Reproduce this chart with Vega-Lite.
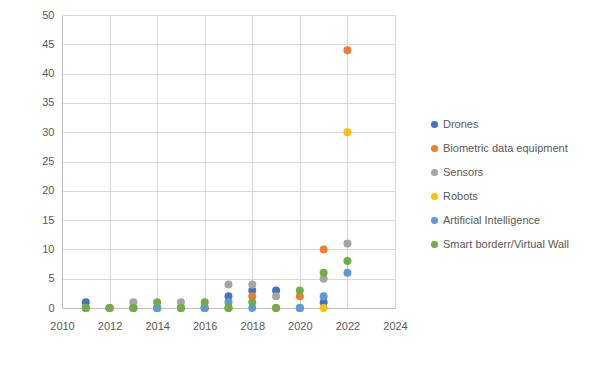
{
  "$schema": "https://vega.github.io/schema/vega-lite/v6.json",
  "width": 333,
  "height": 293,
  "padding": {"left": 62, "top": 15, "right": 205, "bottom": 63},
  "autosize": {"type": "none"},
  "background": "white",
  "config": {
    "font": "Liberation Sans",
    "view": {"stroke": null},
    "axis": {
      "labelFont": "Liberation Sans",
      "labelFontSize": 11,
      "labelColor": "#595959",
      "gridColor": "#D9D9D9",
      "domainColor": "#BFBFBF",
      "ticks": false,
      "title": null,
      "labelFlush": false,
      "labelOverlap": false,
      "labelBound": false
    }
  },
  "data": {
    "values": [
      {"series": "Drones", "year": 2011, "value": 1},
      {"series": "Drones", "year": 2012, "value": 0},
      {"series": "Drones", "year": 2013, "value": 0},
      {"series": "Drones", "year": 2014, "value": 0},
      {"series": "Drones", "year": 2015, "value": 0},
      {"series": "Drones", "year": 2016, "value": 0},
      {"series": "Drones", "year": 2017, "value": 2},
      {"series": "Drones", "year": 2018, "value": 3},
      {"series": "Drones", "year": 2019, "value": 3},
      {"series": "Drones", "year": 2020, "value": 0},
      {"series": "Drones", "year": 2021, "value": 1},
      {"series": "Biometric data equipment", "year": 2011, "value": 0},
      {"series": "Biometric data equipment", "year": 2012, "value": 0},
      {"series": "Biometric data equipment", "year": 2013, "value": 0},
      {"series": "Biometric data equipment", "year": 2014, "value": 0},
      {"series": "Biometric data equipment", "year": 2015, "value": 0},
      {"series": "Biometric data equipment", "year": 2016, "value": 0},
      {"series": "Biometric data equipment", "year": 2017, "value": 0},
      {"series": "Biometric data equipment", "year": 2018, "value": 2},
      {"series": "Biometric data equipment", "year": 2019, "value": 0},
      {"series": "Biometric data equipment", "year": 2020, "value": 2},
      {"series": "Biometric data equipment", "year": 2021, "value": 10},
      {"series": "Biometric data equipment", "year": 2022, "value": 44},
      {"series": "Sensors", "year": 2011, "value": 0},
      {"series": "Sensors", "year": 2012, "value": 0},
      {"series": "Sensors", "year": 2013, "value": 1},
      {"series": "Sensors", "year": 2014, "value": 0},
      {"series": "Sensors", "year": 2015, "value": 1},
      {"series": "Sensors", "year": 2016, "value": 0},
      {"series": "Sensors", "year": 2017, "value": 4},
      {"series": "Sensors", "year": 2018, "value": 4},
      {"series": "Sensors", "year": 2019, "value": 2},
      {"series": "Sensors", "year": 2020, "value": 0},
      {"series": "Sensors", "year": 2021, "value": 5},
      {"series": "Sensors", "year": 2022, "value": 11},
      {"series": "Robots", "year": 2017, "value": 0},
      {"series": "Robots", "year": 2021, "value": 0},
      {"series": "Robots", "year": 2022, "value": 30},
      {"series": "Artificial Intelligence", "year": 2014, "value": 0},
      {"series": "Artificial Intelligence", "year": 2016, "value": 0},
      {"series": "Artificial Intelligence", "year": 2017, "value": 1},
      {"series": "Artificial Intelligence", "year": 2018, "value": 0},
      {"series": "Artificial Intelligence", "year": 2020, "value": 0},
      {"series": "Artificial Intelligence", "year": 2021, "value": 2},
      {"series": "Artificial Intelligence", "year": 2022, "value": 6},
      {"series": "Smart borderr/Virtual Wall", "year": 2011, "value": 0},
      {"series": "Smart borderr/Virtual Wall", "year": 2012, "value": 0},
      {"series": "Smart borderr/Virtual Wall", "year": 2013, "value": 0},
      {"series": "Smart borderr/Virtual Wall", "year": 2014, "value": 1},
      {"series": "Smart borderr/Virtual Wall", "year": 2015, "value": 0},
      {"series": "Smart borderr/Virtual Wall", "year": 2016, "value": 1},
      {"series": "Smart borderr/Virtual Wall", "year": 2017, "value": 0},
      {"series": "Smart borderr/Virtual Wall", "year": 2018, "value": 1},
      {"series": "Smart borderr/Virtual Wall", "year": 2019, "value": 0},
      {"series": "Smart borderr/Virtual Wall", "year": 2020, "value": 3},
      {"series": "Smart borderr/Virtual Wall", "year": 2021, "value": 6},
      {"series": "Smart borderr/Virtual Wall", "year": 2022, "value": 8}
    ]
  },
  "mark": {"type": "point", "filled": true, "opacity": 1, "size": 64},
  "encoding": {
    "x": {
      "field": "year", "type": "quantitative",
      "scale": {"domain": [2010, 2024], "nice": false, "zero": false},
      "axis": {"values": [2010, 2012, 2014, 2016, 2018, 2020, 2022, 2024], "format": "d", "labelPadding": 12, "domain": true}
    },
    "y": {
      "field": "value", "type": "quantitative",
      "scale": {"domain": [0, 50], "nice": false},
      "axis": {"values": [0, 5, 10, 15, 20, 25, 30, 35, 40, 45, 50], "labelPadding": 8, "domain": true}
    },
    "color": {
      "field": "series", "type": "nominal",
      "scale": {
        "domain": ["Drones", "Biometric data equipment", "Sensors", "Robots", "Artificial Intelligence", "Smart borderr/Virtual Wall"],
        "range": ["#4472C4", "#ED7D31", "#A5A5A5", "#FFC000", "#5B9BD5", "#70AD47"]
      },
      "legend": {
        "title": null,
        "orient": "none",
        "legendX": 367,
        "legendY": 104,
        "symbolType": "circle",
        "symbolSize": 50,
        "symbolStrokeWidth": 0,
        "labelFontSize": 11,
        "labelColor": "#595959",
        "labelOffset": 3,
        "rowPadding": 12,
        "labelLimit": 250
      }
    }
  }
}
